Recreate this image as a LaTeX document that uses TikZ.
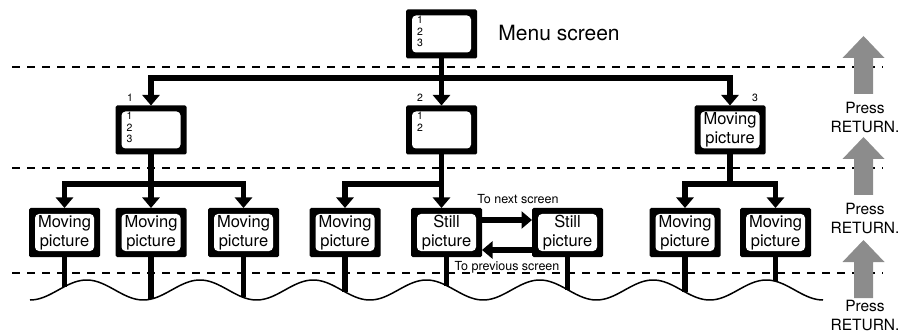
\documentclass[tikz,border=0pt]{standalone}
\usepackage{fontspec}
\setmainfont{TeX Gyre Heros}
\usetikzlibrary{arrows.meta,calc}
\newcommand\scrbox[4]{%
  \node[outerbox] (#1) at (#2,#3) {};
  \node[innerbox] (#1-in) at (#1) {#4};
}
\begin{document}
\begin{tikzpicture}[x=1pt,y=-1pt,
  declare function={wave(\x)=290+10*cos((\x-30)*3.17769);},
  outerbox/.style={fill=black, minimum width=71pt, minimum height=49pt, inner sep=0pt, outer sep=0pt, rounded corners=1.5pt},
  innerbox/.style={fill=white, minimum width=59pt, minimum height=37pt, inner sep=0pt, rounded corners=4pt, align=center, font=\fontsize{16.5}{19}\selectfont},
  digits/.style={anchor=north west, inner sep=0pt, align=left, font=\fontsize{10.5}{11.5}\selectfont},
  tag/.style={font=\fontsize{10.5}{11}\selectfont, inner sep=0pt},
  conn/.style={line width=5.5pt, line join=miter},
  arr/.style={conn, -{Triangle[width=17pt,length=10.5pt]}},
  sep/.style={dash pattern=on 8pt off 7pt, line width=1.8pt},
  wavy/.style={line width=1.5pt},
  press/.style={align=center, font=\fontsize{15.5}{19}\selectfont, inner sep=0pt},
  lbl/.style={font=\fontsize{12.5}{14}\selectfont, inner sep=0pt},
  pressarrow/.pic={\fill[black!45] (-9.5,58) -- (-9.5,22) -- (-21,22) -- (0,0) -- (21,22) -- (9.5,22) -- (9.5,58) -- cycle;}
]
\useasboundingbox (0,0) rectangle (911,334);

% dashed separators
\draw[sep] (12,67) -- (883,67);
\draw[sep] (12,168) -- (883,168);
\draw[sep] (12,273) -- (883,273);

% wave
\draw[wavy] plot[domain=30:823, samples=300, smooth] (\x,{wave(\x)});

% screens
\scrbox{menu}{441.5}{34}{}
\node[digits] at ($(menu-in.north west)+(5,1)$) {1\\2\\3};
\node[font=\fontsize{21}{24}\selectfont, inner sep=0pt] (title) at (559,33) {Menu screen};

\scrbox{L}{151}{130}{}
\node[digits] at ($(L-in.north west)+(5,1)$) {1\\2\\3};
\scrbox{M}{441.5}{130}{}
\node[digits] at ($(M-in.north west)+(5,1)$) {1\\2};
\scrbox{R}{730}{130}{Moving\\picture}

\node[tag] (t1) at (130,97.5) {1};
\node[tag] (t2) at (420,97.5) {2};
\node[tag] (t3) at (755,97.5) {3};

\scrbox{b1}{64.5}{232.5}{Moving\\picture}
\scrbox{b2}{151}{232.5}{Moving\\picture}
\scrbox{b3}{243.5}{232.5}{Moving\\picture}
\scrbox{b4}{345}{232.5}{Moving\\picture}
\scrbox{b5}{446.5}{232.5}{Still\\picture}
\scrbox{b6}{567.5}{232.5}{Still\\picture}
\scrbox{b7}{685}{232.5}{Moving\\picture}
\scrbox{b8}{775.5}{232.5}{Moving\\picture}

% top level connectors
\coordinate (j0) at (441.5,78);
\draw[conn] (menu.south) -- (j0);
\draw[arr] (j0) -| (L.north);
\draw[arr] (j0) -- (M.north);
\draw[arr] (j0) -| (R.north);

% second level connectors
\coordinate (jL) at (151,184);
\draw[conn] (L.south) -- (jL);
\draw[arr] (jL) -| (b1.north);
\draw[arr] (jL) -- (b2.north);
\draw[arr] (jL) -| (b3.north);

\coordinate (jM) at (441.5,184);
\draw[conn] (M.south) -- (jM);
\draw[arr] (jM) -| (b4.north);
\draw[arr] (jM) -- (jM |- b5.north);

\coordinate (jR) at (730,184);
\draw[conn] (R.south) -- (jR);
\draw[arr] (jR) -| (b7.north);
\draw[arr] (jR) -| (b8.north);

% still picture navigation
\draw[arr] ($(b5.east)+(0,-12.5)$) -- ($(b6.west)+(0,-12.5)$);
\draw[arr] ($(b6.west)+(0,17.5)$) -- ($(b5.east)+(0,17.5)$);
\node[lbl] (nx) at (518,199) {To next screen};
\node[lbl] (pv) at (507,267) {To previous screen};

% drops to the wave
\foreach \n/\xx in {b1/64.5,b2/151,b3/243.5,b4/345,b5/446.5,b6/567.5,b7/685,b8/775.5}{
  \coordinate (w\n) at (\xx,{wave(\xx)});
  \draw[conn] (\n.south) -- (w\n);
}

% press return arrows
\pic at (863.5,36) {pressarrow};
\pic at (863.5,137) {pressarrow};
\pic at (863.5,240) {pressarrow};
\node[press] (p1) at (865,117.5) {Press\\RETURN.};
\node[press] (p2) at (865,218) {Press\\RETURN.};
\node[press] (p3) at (865,315.5) {Press\\RETURN.};
\end{tikzpicture}
\end{document}
